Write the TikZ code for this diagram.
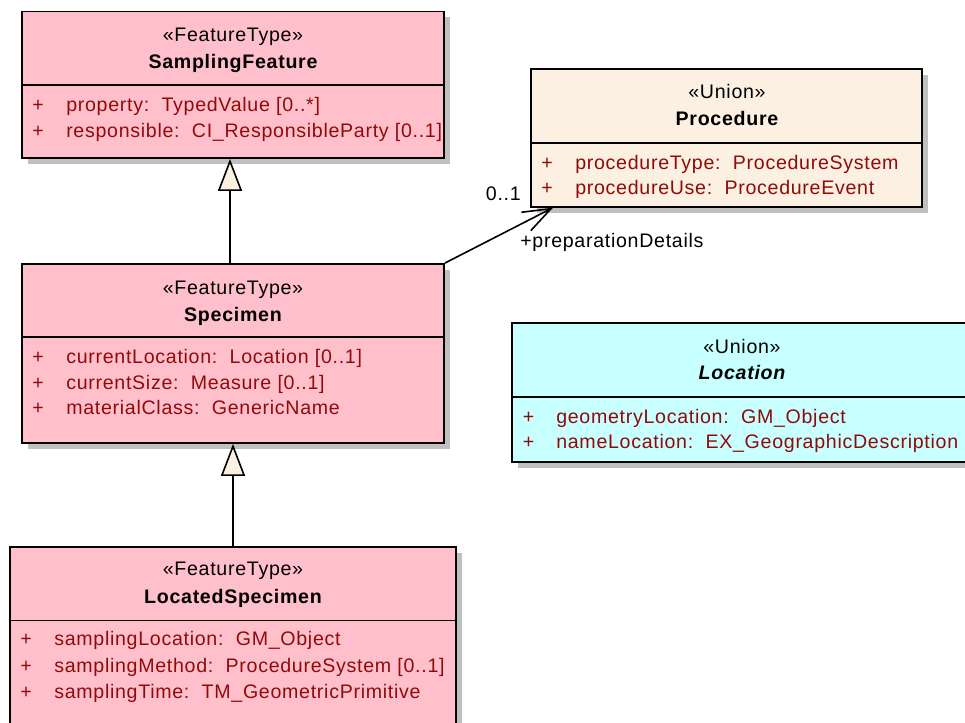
\documentclass[tikz,border=0pt]{standalone}
\usepackage{fontspec}
\setmainfont{Liberation Sans}[LetterSpace=3.6]
\usetikzlibrary{arrows.meta,fit,shadows}
\definecolor{ftpink}{RGB}{255,192,203}
\definecolor{unioncream}{RGB}{251,240,225}
\definecolor{unioncyan}{RGB}{200,255,255}
\definecolor{attrred}{RGB}{145,10,10}
\definecolor{shadowgray}{RGB}{192,192,192}
\begin{document}
\begin{tikzpicture}[x=0.75pt,y=-0.75pt,
  every node/.style={font=\fontsize{14.7}{17}\selectfont},
  classbox/.style={draw=black, line width=1.4pt, inner sep=0pt,
    drop shadow={shadow xshift=4.5pt, shadow yshift=-4.5pt, fill=shadowgray, opacity=1}},
  divider/.style={line width=1.2pt},
  stereo/.style={anchor=base, inner sep=0pt},
  cname/.style={anchor=base, inner sep=0pt, font=\fontsize{14.7}{17}\selectfont\bfseries},
  vis/.style={anchor=base, inner sep=0pt, text=attrred},
  attr/.style={anchor=base west, inner sep=0pt, text=attrred},
  gen/.style={line width=1.2pt, -{Triangle[open, length=24pt, width=18pt, fill=unioncream]}},
  assoc/.style={line width=1.2pt, -{Straight Barb[length=21pt, width=15.5pt]}},
  role/.style={inner sep=0pt}
]
\clip (0,0) rectangle (965,723);
\fill[white] (0,0) rectangle (965,723);

% SamplingFeature
\node[classbox, fill=ftpink, fit={(22,11.5) (444,158)}] (sf) {};
\draw[divider] (22,85) -- (444,85);
\node[stereo] (sfst) at (233,41.7) {«FeatureType»};
\node[cname] (sfnm) at (233,68.3) {SamplingFeature};
\node[vis] (sfv1) at (38,111.7) {+};
\node[attr] (sfa1) at (66,111.7) {property:\ \ TypedValue [0..*]};
\node[vis] (sfv2) at (38,137.3) {+};
\node[attr] (sfa2) at (66,137.3) {responsible:\ \ CI\_ResponsibleParty [0..1]};

% Procedure
\node[classbox, fill=unioncream, fit={(531,69.3) (922,206.7)}] (pr) {};
\draw[divider] (531,143.3) -- (922,143.3);
\node[stereo] (prst) at (727,98.3) {«Union»};
\node[cname] (prnm) at (727,126) {Procedure};
\node[vis] (prv1) at (547,169.3) {+};
\node[attr] (pra1) at (575,169.3) {procedureType:\ \ ProcedureSystem};
\node[vis] (prv2) at (547,195) {+};
\node[attr] (pra2) at (575,195) {procedureUse:\ \ ProcedureEvent};

% Specimen
\node[classbox, fill=ftpink, fit={(22,264) (444,443)}] (sp) {};
\draw[divider] (22,337) -- (444,337);
\node[stereo] (spst) at (233,294.7) {«FeatureType»};
\node[cname] (spnm) at (233,321.3) {Specimen};
\node[vis] (spv1) at (38,363.7) {+};
\node[attr] (spa1) at (66,363.7) {currentLocation:\ \ Location [0..1]};
\node[vis] (spv2) at (38,389.3) {+};
\node[attr] (spa2) at (66,389.3) {currentSize:\ \ Measure [0..1]};
\node[vis] (spv3) at (38,415) {+};
\node[attr] (spa3) at (66,415) {materialClass:\ \ GenericName};

% Location
\node[classbox, fill=unioncyan, fit={(512,323.3) (972,461.7)}] (lo) {};
\draw[divider] (512,397.3) -- (972,397.3);
\node[stereo] (lost) at (742,353.3) {«Union»};
\node[cname, font=\fontsize{14.7}{17}\selectfont\bfseries\itshape] (lonm) at (742,380) {Location};
\node[vis] (lov1) at (528.5,423.3) {+};
\node[attr] (loa1) at (556,423.3) {geometryLocation:\ \ GM\_Object};
\node[vis] (lov2) at (528.5,448.3) {+};
\node[attr] (loa2) at (556,448.3) {nameLocation:\ \ EX\_GeographicDescription};

% LocatedSpecimen
\node[classbox, fill=ftpink, fit={(10,547.3) (456,740)}] (ls) {};
\draw[divider] (10,620.7) -- (456,620.7);
\node[stereo] (lsst) at (233,576) {«FeatureType»};
\node[cname] (lsnm) at (233,604) {LocatedSpecimen};
\node[vis] (lsv1) at (26,646) {+};
\node[attr] (lsa1) at (54,646) {samplingLocation:\ \ GM\_Object};
\node[vis] (lsv2) at (26,672.7) {+};
\node[attr] (lsa2) at (54,672.7) {samplingMethod:\ \ ProcedureSystem [0..1]};
\node[vis] (lsv3) at (26,698.3) {+};
\node[attr] (lsa3) at (54,698.3) {samplingTime:\ \ TM\_GeometricPrimitive};

% Generalizations
\draw[gen] ([xshift=-2.25pt]sp.north) -- ([xshift=-2.25pt]sf.south);
\draw[gen] (ls.north) -- (sp.south);

% Association to Procedure
\draw[assoc] (sp.north east) -- ([xshift=17.25pt]pr.south west);
\node[role, anchor=base east] (mult) at (521,200.5) {0..1};
\node[role, anchor=base west] (rolename) at (520,248) {+preparationDetails};
\end{tikzpicture}
\end{document}
